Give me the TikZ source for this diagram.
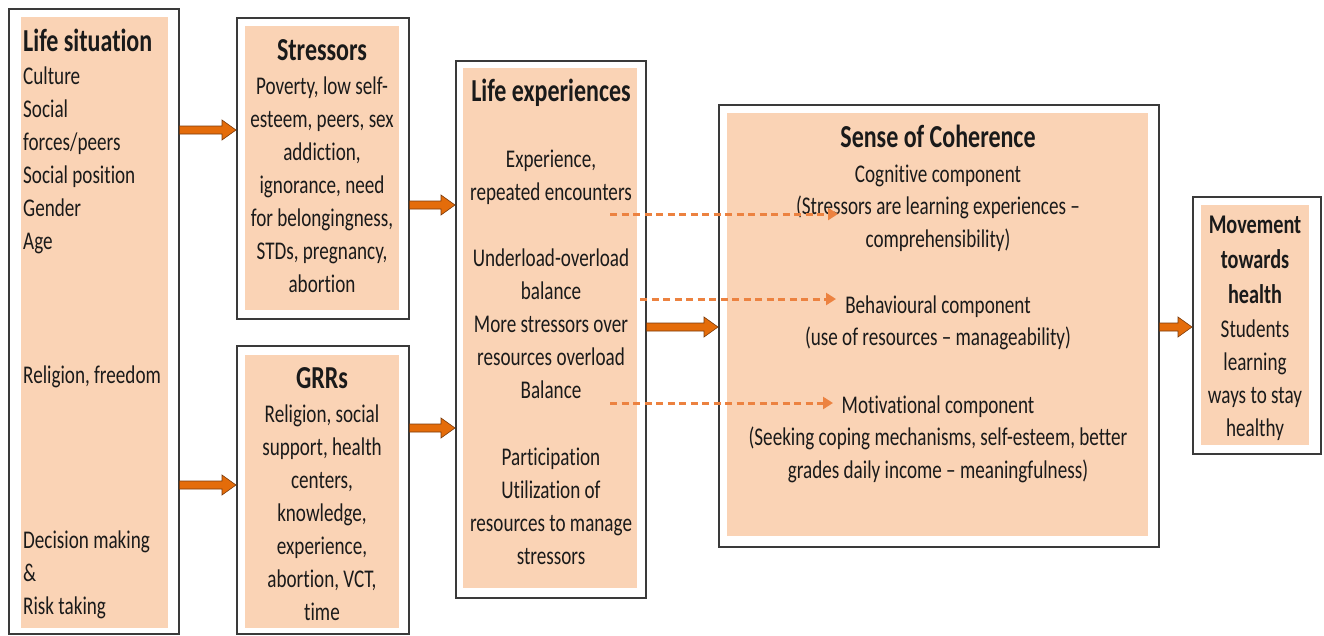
\documentclass[tikz,border=0pt]{standalone}
\usepackage{fontspec}
\setmainfont{Carlito}[FakeStretch=0.75,Ligatures=NoCommon]
\usetikzlibrary{arrows.meta,calc}
\definecolor{framec}{HTML}{3A3A3A}
\definecolor{peach}{HTML}{FAD3B5}
\definecolor{txt}{HTML}{1A1A1A}
\definecolor{arrowc}{HTML}{E46C0A}
\definecolor{arrowb}{HTML}{7A3A0A}
\definecolor{dashc}{HTML}{EC8240}
\newcommand\fstrut{\rule{0pt}{25pt}}
\newcommand\barrow[2]{%
  \filldraw[blockarrow] let \p1=(#1), \p2=(#2) in
  (\x1,\y1+4pt) -- (\x2-14pt,\y1+4pt) -- (\x2-14pt,\y1+10pt) -- (\x2,\y1)
  -- (\x2-14pt,\y1-10pt) -- (\x2-14pt,\y1-4pt) -- (\x1,\y1-4pt) -- cycle;}
\begin{document}
\begin{tikzpicture}[x=1pt,y=-1pt,
  frame/.style={draw=framec, line width=1.5pt, fill=white, inner sep=0pt, anchor=north west},
  fillbox/.style={fill=peach, inner sep=0pt, anchor=north west},
  body/.style={font=\fontsize{25.5}{33}\selectfont, inner sep=0pt, text=txt},
  title/.style={font=\bfseries\fontsize{32}{36}\selectfont, inner sep=0pt, text=txt},
  btitle/.style={font=\bfseries\fontsize{27}{35}\selectfont, inner sep=0pt, text=txt},
  blockarrow/.style={fill=arrowc, draw=arrowb, line width=0.6pt, line join=miter},
  dasharrow/.style={draw=dashc, line width=3pt, dash pattern=on 7pt off 4.5pt,
    -{Triangle[length=10pt,width=12pt]}}]
\useasboundingbox (0,0) rectangle (1324,635);

% frames
\node[frame, minimum width=170pt, minimum height=625pt] (lsO) at (8,8) {};
\node[frame, minimum width=172pt, minimum height=301pt] (stO) at (236,17) {};
\node[frame, minimum width=172pt, minimum height=288pt] (grO) at (236,345) {};
\node[frame, minimum width=190pt, minimum height=537pt] (leO) at (455,60) {};
\node[frame, minimum width=440pt, minimum height=442pt] (socO) at (718,104) {};
\node[frame, minimum width=128pt, minimum height=257pt] (mvO) at (1192,196) {};

% inner fills
\node[fillbox, minimum width=147pt, minimum height=611pt] (ls) at (21,17) {};
\node[fillbox, minimum width=154pt, minimum height=284pt] (st) at (245,26) {};
\node[fillbox, minimum width=154pt, minimum height=273pt] (gr) at (245,355) {};
\node[fillbox, minimum width=174pt, minimum height=520pt] (le) at (463,68) {};
\node[fillbox, minimum width=421pt, minimum height=423pt] (soc) at (727,113) {};
\node[fillbox, minimum width=108pt, minimum height=240pt] (mv) at (1201,205) {};

% Life situation
\node[title, anchor=base west] (lsT) at (23,51) {Life situation};
\node[body, anchor=north west, align=left] (ls1) at (23,59)
  {\fstrut Culture\\Social\\forces/peers\\Social position\\Gender\\Age};
\node[body, anchor=north west, align=left] (ls2) at (23,358) {\fstrut Religion, freedom};
\node[body, anchor=north west, align=left] (ls3) at (23,523)
  {\fstrut Decision making\\\&\\Risk taking};

% Stressors
\node[title, anchor=base] (stT) at (322,60) {Stressors};
\node[body, anchor=north, align=center] (st1) at (322,69)
  {\fstrut Poverty, low self-\\esteem, peers, sex\\addiction,\\ignorance, need\\for belongingness,\\STDs, pregnancy,\\abortion};

% GRRs
\node[title, anchor=base] (grT) at (322,388) {GRRs};
\node[body, anchor=north, align=center] (gr1) at (322,397)
  {\fstrut Religion, social\\support, health\\centers,\\knowledge,\\experience,\\abortion, VCT,\\time};

% Life experiences
\node[title, anchor=base] (leT) at (551,101) {Life experiences};
\node[body, anchor=north, align=center] (le1) at (551,142)
  {\fstrut Experience,\\repeated encounters};
\node[body, anchor=north, align=center] (le2) at (551,241)
  {\fstrut Underload-overload\\balance\\More stressors over\\resources overload\\Balance};
\node[body, anchor=north, align=center] (le3) at (551,440)
  {\fstrut Participation\\Utilization of\\resources to manage\\stressors};

% Sense of Coherence
\node[title, anchor=base] (socT) at (938,147) {Sense of Coherence};
\node[body, anchor=north, align=center, font=\fontsize{25.5}{32.5}\selectfont] (soc1) at (938,157)
  {\fstrut Cognitive component\\(Stressors are learning experiences --\\comprehensibility)};
\node[body, anchor=north, align=center, font=\fontsize{25.5}{32.5}\selectfont] (soc2) at (938,288)
  {\fstrut Behavioural component\\(use of resources -- manageability)};
\node[body, anchor=north, align=center, font=\fontsize{25.5}{32.5}\selectfont] (soc3) at (938,388)
  {\fstrut Motivational component\\(Seeking coping mechanisms, self-esteem, better\\grades daily income -- meaningfulness)};

% Movement towards health
\node[btitle, anchor=north, align=center] (mvT) at (1255,208)
  {\fstrut Movement\\towards\\health};
\node[body, anchor=north, align=center] (mv1) at (1255,312)
  {\fstrut Students\\learning\\ways to stay\\healthy};

% block arrows
\barrow{lsO.east |- 0,130}{stO.west |- 0,130}
\barrow{lsO.east |- 0,485}{grO.west |- 0,485}
\barrow{stO.east |- 0,205}{leO.west |- 0,205}
\barrow{grO.east |- 0,428}{leO.west |- 0,428}
\barrow{leO.east |- 0,327}{socO.west |- 0,327}
\barrow{socO.east |- 0,327}{mvO.west |- 0,327}

% dashed arrows
\coordinate (d1s) at (610,214);
\coordinate (d1e) at (838,214);
\coordinate (d2s) at (640,299);
\coordinate (d2e) at (836,299);
\coordinate (d3s) at (610,403);
\coordinate (d3e) at (833,403);
\draw[dasharrow] (d1s) -- (d1e);
\draw[dasharrow] (d2s) -- (d2e);
\draw[dasharrow] (d3s) -- (d3e);
\end{tikzpicture}
\end{document}
